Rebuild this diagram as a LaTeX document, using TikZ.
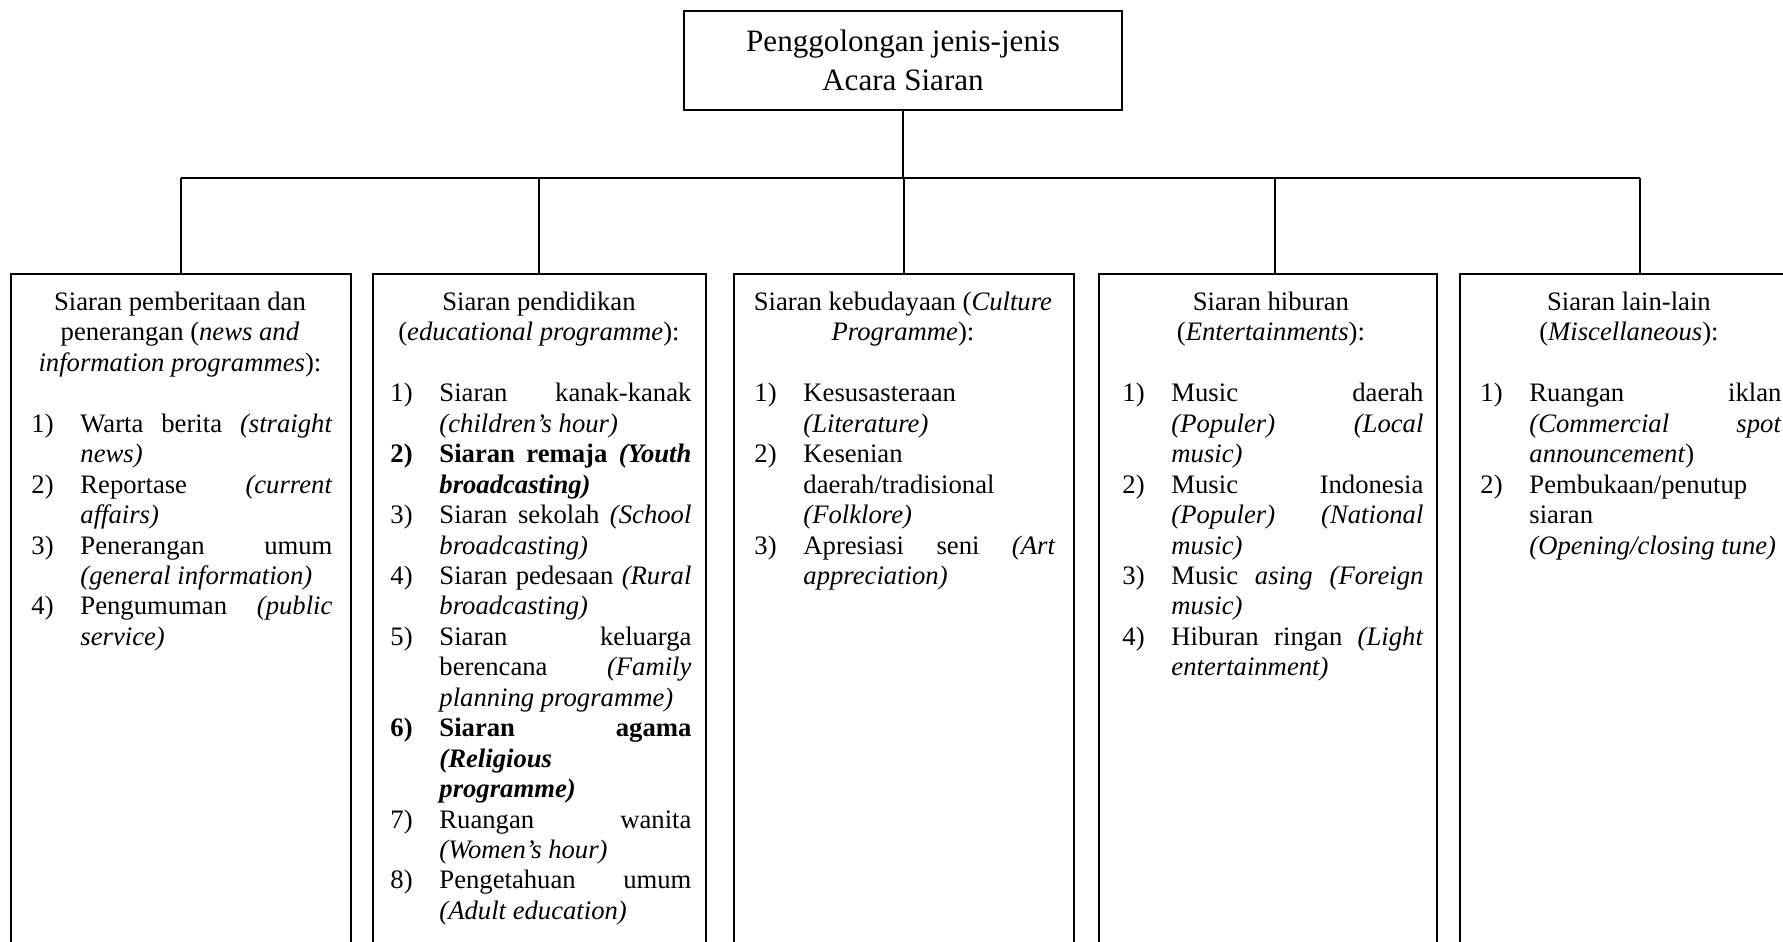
\documentclass[tikz,border=0pt]{standalone}
\usepackage{fontspec}
\setmainfont{Liberation Serif}
\newcommand\itm[2]{\par\noindent\hangindent=23.85pt\hangafter=1\hbox to 23.85pt{\hspace{1.8pt}#1\hfil}#2}
\begin{document}
\begin{tikzpicture}[x=0.45pt,y=-0.45pt,
  box/.style={draw, line width=0.9pt, inner sep=0pt, minimum width=153pt, minimum height=327pt, anchor=north},
  conn/.style={draw, line width=0.8pt},
  content/.style={anchor=north west, inner sep=0pt, text width=137.25pt, align=justify,
    font=\fontsize{12}{13.7}\selectfont,
    execute at begin node={\parindent=0pt\parskip=0pt\tolerance=10000\hbadness=10000\pretolerance=-1\hyphenpenalty=10000\exhyphenpenalty=10000}}]
\useasboundingbox (0,0) rectangle (1783,941);
\clip (0,0) rectangle (1783,941);

\node[draw, line width=0.9pt, minimum width=197.1pt, minimum height=44.55pt, inner sep=0pt, align=center,
  font=\fontsize{14}{17.4}\selectfont] (root) at (903,60.5) {Penggolongan jenis-jenis\\Acara Siaran};

\node[box, minimum width=152.55pt] (b1) at (181,273) {};
\node[box, minimum width=149.85pt] (b2) at (539,273) {};
\node[box] (b3) at (904,273) {};
\node[box, minimum width=152.1pt] (b4) at (1268,273) {};
\node[box, minimum width=162pt] (b5) at (1640,273) {};
\coordinate (d4) at (1275,273);

\coordinate (bus) at (0,178);
\draw[conn] (root.south) -- (root.south |- bus);
\draw[conn] (b1.north |- bus) -- (b5.north |- bus);
\foreach \b in {b1.north,b2.north,b3.north,d4,b5.north} \draw[conn] (\b |- bus) -- (\b);

\node[content] (t1) at (27,288.7) {%
{\centering\strut Siaran pemberitaan dan\\penerangan (\textit{news and}\\\textit{information programmes}):\par}
\vspace{13.7pt}
\itm{1)}{Warta berita \textit{(straight}\linebreak\textit{news)}}
\itm{2)}{Reportase \textit{(current}\linebreak\textit{affairs)}}
\itm{3)}{Penerangan umum\linebreak\textit{(general information)}}
\itm{4)}{Pengumuman \textit{(public}\linebreak\textit{service)}}\par};

\node[content] (t2) at (386,288.7) {%
{\centering\strut Siaran pendidikan\\(\textit{educational programme}):\par}
\vspace{13.7pt}
\itm{1)}{Siaran kanak-kanak\linebreak\textit{(children’s hour)}}
\itm{\textbf{2)}}{\textbf{Siaran remaja \textit{(Youth}\linebreak\textit{broadcasting)}}}
\itm{3)}{Siaran sekolah \textit{(School}\linebreak\textit{broadcasting)}}
\itm{4)}{Siaran pedesaan \textit{(Rural}\linebreak\textit{broadcasting)}}
\itm{5)}{Siaran keluarga\linebreak berencana \textit{(Family}\linebreak\textit{planning programme)}}
\itm{\textbf{6)}}{\textbf{Siaran agama\linebreak\textit{(Religious}\linebreak\textit{programme)}}}
\itm{7)}{Ruangan wanita\linebreak\textit{(Women’s hour)}}
\itm{8)}{Pengetahuan umum\linebreak\textit{(Adult education)}}\par};

\node[content] (t3) at (750,288.7) {%
{\centering\strut Siaran kebudayaan (\textit{Culture}\\\textit{Programme}):\par}
\vspace{13.7pt}
\itm{1)}{Kesusasteraan\linebreak\textit{(Literature)}}
\itm{2)}{Kesenian\linebreak daerah/tradisional\linebreak\textit{(Folklore)}}
\itm{3)}{Apresiasi seni \textit{(Art}\linebreak\textit{appreciation)}}\par};

\node[content] (t4) at (1118,288.7) {%
{\centering\strut Siaran hiburan\\(\textit{Entertainments}):\par}
\vspace{13.7pt}
\itm{1)}{Music daerah\linebreak\textit{(Populer) (Local}\linebreak\textit{music)}}
\itm{2)}{Music Indonesia\linebreak\textit{(Populer) (National}\linebreak\textit{music)}}
\itm{3)}{Music \textit{asing (Foreign}\linebreak\textit{music)}}
\itm{4)}{Hiburan ringan \textit{(Light}\linebreak\textit{entertainment)}}\par};

\node[content] (t5) at (1476,288.7) {%
{\centering\strut Siaran lain-lain\\(\textit{Miscellaneous}):\par}
\vspace{13.7pt}
\itm{1)}{Ruangan iklan\linebreak\textit{(Commercial spot}\linebreak\textit{announcement})}
\itm{2)}{Pembukaan/penutup\linebreak siaran\linebreak\textit{(Opening/closing tune)}}\par};
\end{tikzpicture}
\end{document}
